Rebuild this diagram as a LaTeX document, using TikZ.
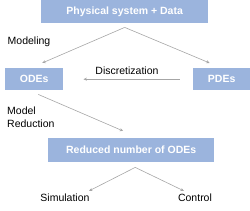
\documentclass[tikz,border=0pt]{standalone}
\usepackage{fontspec}
\setmainfont{Liberation Sans}
\usetikzlibrary{arrows.meta,calc}
\definecolor{boxblue}{HTML}{9BB4DD}
\definecolor{linegray}{HTML}{A6A6A6}
\tikzset{
  bluebox/.style={fill=boxblue, draw=none, text=white, font=\fontsize{10.5}{12}\selectfont\bfseries, inner sep=0pt, anchor=north west},
  lbl/.style={font=\fontsize{10.5}{12.5}\selectfont, text=black, inner sep=0pt, align=left},
  conn/.style={draw=linegray, line width=0.6pt, -{Stealth[length=3.5pt,width=3pt]}},
}
\begin{document}
\begin{tikzpicture}[x=1pt,y=-1pt]
\useasboundingbox (0,0) rectangle (250,211);
\node[bluebox, minimum width=167pt, minimum height=23pt] (top) at (41,0) {Physical system + Data};
\node[bluebox, minimum width=58pt, minimum height=22pt] (odes) at (5,68) {ODEs};
\node[bluebox, minimum width=57pt, minimum height=22pt] (pdes) at (193,68) {PDEs};
\node[bluebox, minimum width=166pt, minimum height=24pt] (red) at (48,138) {Reduced number of ODEs};
\node[lbl] (modeling) at (29,42) {Modeling};
\node[lbl] (disc) at (127,71) {Discretization};
\node[lbl, anchor=west] (mr) at (7,117) {Model\\Reduction};
\node[lbl] (sim) at (65,198) {Simulation};
\node[lbl] (ctrl) at (195,198) {Control};
\draw[conn] ($(top.south)+(0,4)$) -- ($(odes.north)+(8,-5)$);
\draw[conn] ($(top.south)+(0,4)$) -- ($(pdes.north)+(-12,-5)$);
\draw[conn] ($(pdes.west)+(-13,0)$) -- ($(odes.east)+(20,0)$);
\draw[conn] ($(odes.south)+(4,4)$) -- ($(red.north)+(-8,-7)$);
\draw[conn] ($(red.south)+(4,5)$) -- ($(sim.north)+(24,-3)$);
\draw[conn] ($(red.south)+(4,5)$) -- ($(ctrl.north)+(-11,-3)$);
\end{tikzpicture}
\end{document}
